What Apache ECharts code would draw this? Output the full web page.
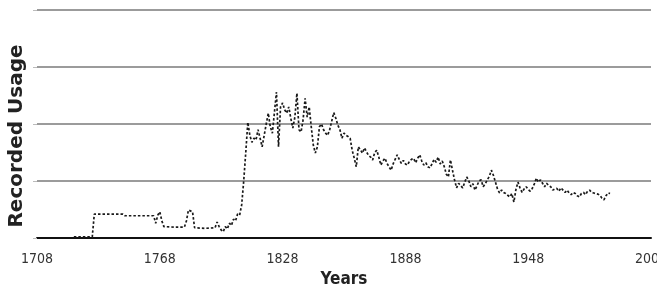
<!DOCTYPE html>
<html>
<head>
<meta charset="utf-8">
<script src="https://cdn.jsdelivr.net/npm/echarts@6/dist/echarts.min.js"></script>
<style>html,body{margin:0;padding:0;background:#fff}#c{width:657px;height:293px}</style>
</head>
<body>
<div id="c"></div>
<script>
var years = [1726,1735,1736,1743,1750,1751,1758,1765,1766,1767,1768,1769,1770,1775,1780,1781,1782,1784,1785,1790,1795,1796,1797,1798,1799,1800,1801,1802,1803,1804,1805,1806,1807,1808,1809,1810,1811,1812,1813,1814,1815,1816,1817,1818,1819,1820,1821,1822,1823,1824,1825,1826,1827,1828,1829,1830,1831,1832,1833,1834,1835,1836,1837,1838,1839,1840,1841,1842,1843,1844,1845,1846,1847,1848,1849,1850,1851,1852,1853,1854,1855,1856,1857,1858,1859,1860,1861,1862,1863,1864,1865,1866,1867,1868,1869,1870,1871,1872,1873,1874,1875,1876,1877,1878,1879,1880,1881,1882,1883,1884,1885,1886,1887,1888,1889,1890,1891,1892,1893,1894,1895,1896,1897,1898,1899,1900,1901,1902,1903,1904,1905,1906,1907,1908,1909,1910,1911,1912,1913,1914,1915,1916,1917,1918,1919,1920,1921,1922,1923,1924,1925,1926,1927,1928,1929,1930,1931,1932,1933,1934,1935,1936,1937,1938,1939,1940,1941,1942,1943,1944,1945,1946,1947,1948,1949,1950,1951,1952,1953,1954,1955,1956,1957,1958,1959,1960,1961,1962,1963,1964,1965,1966,1967,1968,1969,1970,1971,1972,1973,1974,1975,1976,1977,1978,1979,1980,1981,1982,1983,1984,1985,1986,1987,1988];
var usage = [0.02,0.02,0.42,0.42,0.42,0.39,0.39,0.39,0.26,0.40,0.46,0.30,0.20,0.19,0.19,0.30,0.49,0.46,0.18,0.17,0.18,0.28,0.20,0.14,0.11,0.20,0.16,0.26,0.22,0.33,0.30,0.42,0.40,0.58,1.00,1.50,2.03,1.80,1.68,1.75,1.72,1.90,1.75,1.60,1.80,2.00,2.19,1.95,1.84,2.20,2.56,1.60,2.30,2.37,2.25,2.19,2.30,2.10,1.93,2.12,2.54,1.90,1.86,2.07,2.45,2.12,2.30,1.95,1.63,1.49,1.60,1.95,2.00,1.90,1.84,1.80,1.90,2.05,2.20,2.10,1.98,1.90,1.75,1.84,1.80,1.78,1.75,1.54,1.40,1.25,1.60,1.55,1.49,1.58,1.51,1.45,1.42,1.37,1.50,1.54,1.42,1.28,1.35,1.40,1.31,1.25,1.19,1.30,1.38,1.46,1.38,1.31,1.36,1.30,1.28,1.35,1.38,1.40,1.32,1.40,1.46,1.35,1.28,1.32,1.25,1.23,1.30,1.38,1.33,1.42,1.30,1.35,1.25,1.12,1.07,1.37,1.19,1.02,0.88,0.96,0.92,0.88,0.98,1.07,1.00,0.90,0.95,0.84,0.92,1.00,1.02,0.90,0.95,1.02,1.08,1.19,1.10,0.98,0.86,0.79,0.84,0.80,0.78,0.75,0.72,0.78,0.63,0.85,0.98,0.88,0.80,0.86,0.90,0.85,0.82,0.87,0.95,1.05,0.98,1.02,0.96,0.90,0.96,0.92,0.90,0.84,0.86,0.87,0.82,0.88,0.84,0.80,0.84,0.79,0.76,0.80,0.78,0.74,0.72,0.78,0.80,0.76,0.82,0.84,0.80,0.79,0.78,0.77,0.75,0.70,0.67,0.74,0.79,0.78];
var xTicks = [1708,1768,1828,1888,1948,2008];
var xTitle = 'Years';
var yTitle = 'Recorded Usage';

var chart = echarts.init(document.getElementById('c'), null, {renderer:'canvas'});
var pts = years.map(function(y,i){return [y, usage[i]];});
var narrow = "'Liberation Sans Narrow','DejaVu Sans Condensed',sans-serif";
chart.setOption({
  animation:false,
  backgroundColor:'#fff',
  grid:{left:37,right:6,top:10,bottom:55,containLabel:false,outerBoundsMode:'none'},
  xAxis:{
    type:'value', min:xTicks[0], max:xTicks[xTicks.length-1], interval:60,
    name:xTitle, nameLocation:'middle', nameGap:32,
    nameTextStyle:{fontFamily:narrow,fontWeight:'bold',fontSize:17,color:'#222'},
    axisLine:{show:true,onZero:false,lineStyle:{color:'#111',width:2}},
    axisTick:{show:false},
    splitLine:{show:false},
    axisLabel:{margin:14,fontFamily:narrow,fontSize:14,color:'#333',showMaxLabel:true,showMinLabel:true,
      formatter:function(v){return String(v);}}
  },
  yAxis:{
    type:'value', min:0, max:4, interval:1,
    axisLine:{show:false},
    axisTick:{show:true,length:4,lineStyle:{color:'#bbb'}},
    axisLabel:{show:false},
    splitLine:{show:true,lineStyle:{color:'#7a7a7a',width:1.5}}
  },
  graphic:[{
    type:'text', x:17, y:136, rotation:Math.PI/2,
    style:{text:yTitle, fontFamily:"'DejaVu Sans',sans-serif", fontWeight:'bold', fontSize:20, fill:'#222', align:'center', verticalAlign:'middle'}
  }],
  series:[{
    type:'line', data:pts, showSymbol:false, symbol:'none',
    lineStyle:{color:'#1a1a1a',width:1.7,type:[2.5,2]}
  }]
});
</script>
</body>
</html>
